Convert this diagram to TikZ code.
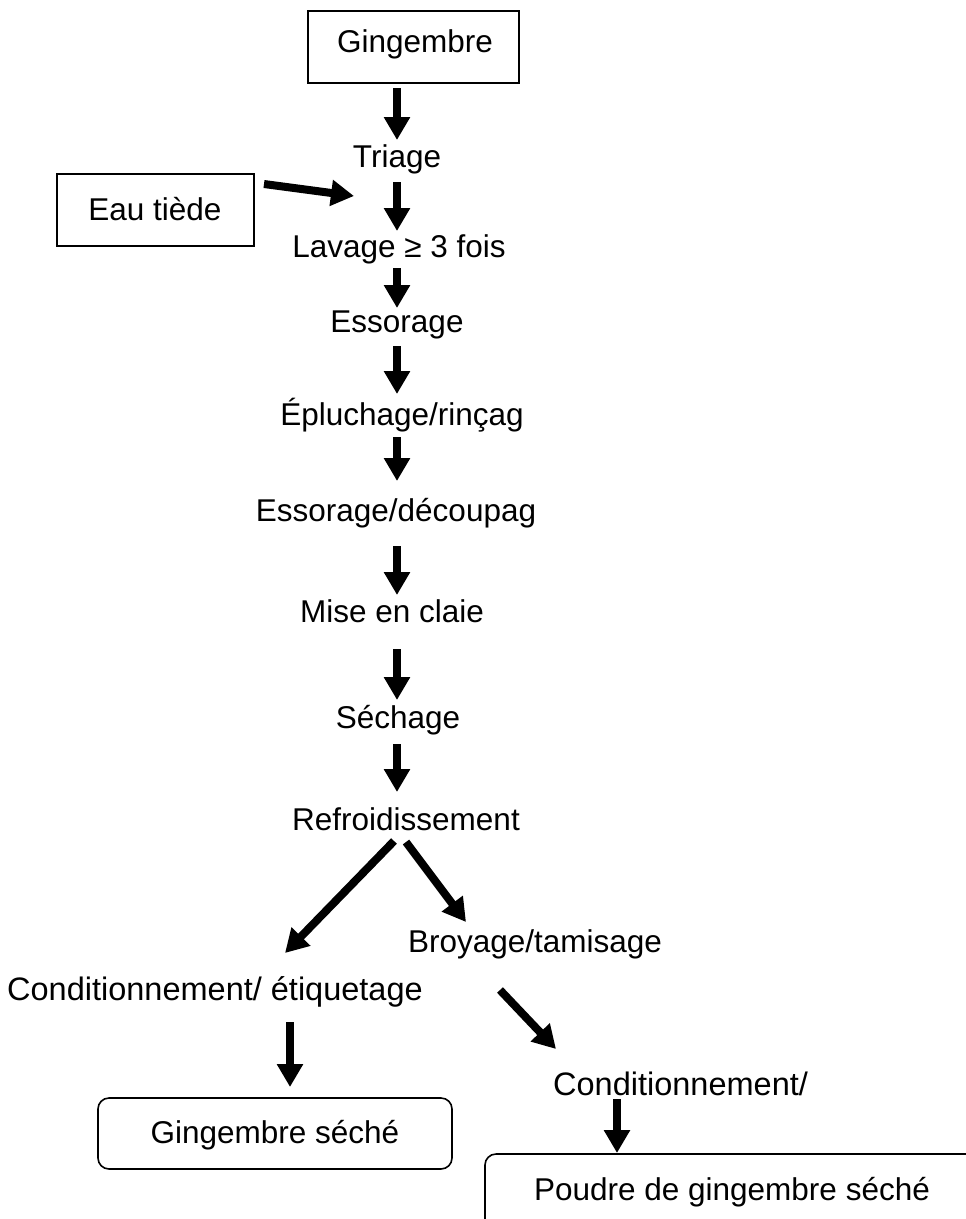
\documentclass[tikz,border=0pt]{standalone}
\usepackage{fontspec}
\setmainfont{Liberation Sans}
\usetikzlibrary{arrows.meta}
\begin{document}
\begin{tikzpicture}[x=1pt,y=-1pt,
  every node/.style={font=\fontsize{31.5}{36}\selectfont, inner sep=0pt},
  bigtext/.style={font=\fontsize{32.5}{38}\selectfont},
  stepbox/.style={draw, line width=1.4pt},
  roundbox/.style={draw, line width=1.6pt, rounded corners=11pt},
  flow/.style={line width=8pt, -{Triangle[width=25pt,length=23pt]}}]
\clip (0,0) rectangle (966,1219);
\fill[white] (0,0) rectangle (966,1219);

% boxes
\draw[stepbox] (308,11) rectangle (519,83);
\node (ging) at (415,44) {Gingembre};
\draw[stepbox] (57,174) rectangle (254,246);
\node (eau) at (155,209) {Eau tiède};
\draw[roundbox] (98,1098) rectangle (452,1169);
\node (seche) at (275,1135) {Gingembre séché};
\draw[roundbox] (485,1154) rectangle (1000,1260);
\node (poudre) at (732,1192) {Poudre de gingembre séché};

% steps
\node (triage) at (397,159) {Triage};
\node (lavage) at (399,249) {Lavage ≥ 3 fois};
\node (ess1) at (397,325) {Essorage};
\node (eplu) at (402,415) {Épluchage/rinçag};
\node (ess2) at (396,513) {Essorage/découpag};
\node (claie) at (392,611) {Mise en claie};
\node (sech) at (398,720) {Séchage};
\node (refr) at (406,819) {Refroidissement};
\node (broy) at (535,944) {Broyage/tamisage};
\node[bigtext] (cond1) at (215,992) {Conditionnement/ étiquetage};
\node[bigtext, anchor=west] (cond2) at (553,1084) {Conditionnement/};

% connector end points
\coordinate (a1s) at (397,88);   \coordinate (a1e) at (397,140);
\coordinate (e1s) at (264,184);  \coordinate (e1e) at (354,196);
\coordinate (a2s) at (397,182);  \coordinate (a2e) at (397,231);
\coordinate (a3s) at (397,268);  \coordinate (a3e) at (397,308);
\coordinate (a4s) at (397,346);  \coordinate (a4e) at (397,394);
\coordinate (a5s) at (397,437);  \coordinate (a5e) at (397,481);
\coordinate (a6s) at (397,546);  \coordinate (a6e) at (397,595);
\coordinate (a7s) at (397,649);  \coordinate (a7e) at (397,700);
\coordinate (a8s) at (397,744);  \coordinate (a8e) at (397,792);
\coordinate (l1s) at (394,841);  \coordinate (l1e) at (285,953);
\coordinate (r1s) at (406,842);  \coordinate (r1e) at (466,922);
\coordinate (l2s) at (290,1022); \coordinate (l2e) at (290,1087);
\coordinate (r2s) at (500,990);  \coordinate (r2e) at (556,1049);
\coordinate (r3s) at (617,1099); \coordinate (r3e) at (617,1153);

\draw[flow] (a1s) -- (a1e);
\draw[flow] (e1s) -- (e1e);
\draw[flow] (a2s) -- (a2e);
\draw[flow] (a3s) -- (a3e);
\draw[flow] (a4s) -- (a4e);
\draw[flow] (a5s) -- (a5e);
\draw[flow] (a6s) -- (a6e);
\draw[flow] (a7s) -- (a7e);
\draw[flow] (a8s) -- (a8e);
\draw[flow] (l1s) -- (l1e);
\draw[flow] (r1s) -- (r1e);
\draw[flow] (l2s) -- (l2e);
\draw[flow] (r2s) -- (r2e);
\draw[flow] (r3s) -- (r3e);
\end{tikzpicture}
\end{document}
